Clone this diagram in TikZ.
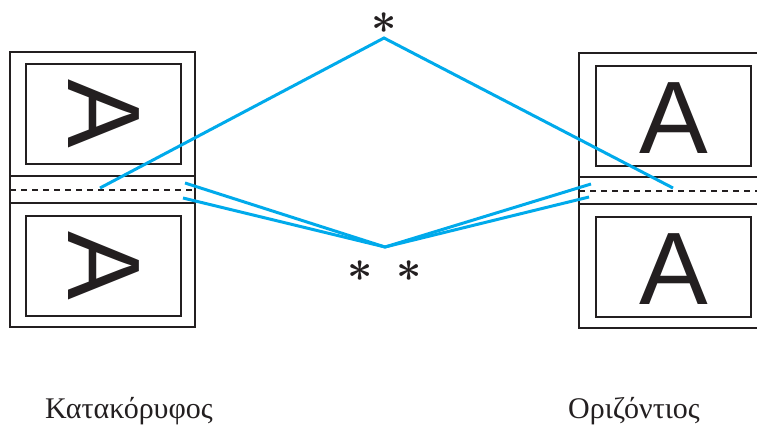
\documentclass[tikz,border=0pt]{standalone}
\usepackage{graphicx}
\usepackage{fontspec}
\setmainfont{Liberation Serif}
\newfontfamily\letterfont{Liberation Sans}
\definecolor{guide}{RGB}{0,170,235}
\definecolor{ink}{RGB}{35,31,32}
\newcommand{\bigstarsym}{\scalebox{4.4}{\boldmath$\ast$}}
\begin{document}
\begin{tikzpicture}[x=1pt,y=-1pt,
  pageline/.style={draw=ink,line width=1.8pt},
  guideline/.style={draw=guide,line width=3pt,line cap=butt,line join=miter},
  bigA/.style={font=\fontsize{103}{103}\selectfont\letterfont,text=ink,inner sep=0pt},
  star/.style={text=ink,inner sep=0pt},
  caption/.style={font=\fontsize{30}{30}\selectfont,text=ink,inner sep=0pt}]
\useasboundingbox (0,0) rectangle (757,425);
\begin{scope}
\clip (0,0) rectangle (757,425);
% left page
\draw[pageline] (10,52) rectangle (195,327);
\draw[pageline] (10,176) -- (195,176);
\draw[pageline] (10,203) -- (195,203);
\draw[draw=ink,line width=1.5pt,dash pattern=on 6pt off 5pt] (10,190) -- (195,190);
\draw[pageline] (26,64) rectangle (181,164);
\draw[pageline] (26,216) rectangle (181,316);
\node[bigA,rotate=-90] (LA1) at (103.5,114) {A};
\node[bigA,rotate=-90] (LA2) at (103.5,266) {A};
% right page
\draw[pageline] (579,53) rectangle (764,328);
\draw[pageline] (579,177) -- (764,177);
\draw[pageline] (579,204) -- (764,204);
\draw[draw=ink,line width=1.5pt,dash pattern=on 6pt off 5pt] (579,191) -- (764,191);
\draw[pageline] (596,66) rectangle (751,166);
\draw[pageline] (596,217) rectangle (751,317);
\node[bigA] (RA1) at (673.5,118) {A};
\node[bigA] (RA2) at (673.5,269) {A};
\end{scope}
% guide lines
\coordinate (top) at (384,38);
\coordinate (bot) at (385,247);
\coordinate (lt) at (100,188);
\coordinate (rt) at (673,188);
\coordinate (l1) at (185,183);
\coordinate (l2) at (183,198);
\coordinate (r1) at (591,184);
\coordinate (r2) at (589,197);
\draw[guideline] (lt) -- (top) -- (rt);
\draw[guideline] (l1) -- (bot) -- (r1);
\draw[guideline] (l2) -- (bot) -- (r2);
% asterisks
\node[star] (s0) at (384,23) {\bigstarsym};
\node[star] (s1) at (360,271) {\bigstarsym};
\node[star] (s2) at (409,271) {\bigstarsym};
% captions
\node[caption] (c1) at (129,411) {Κατακόρυφος};
\node[caption] (c2) at (634,411) {Οριζόντιος};
\end{tikzpicture}
\end{document}
